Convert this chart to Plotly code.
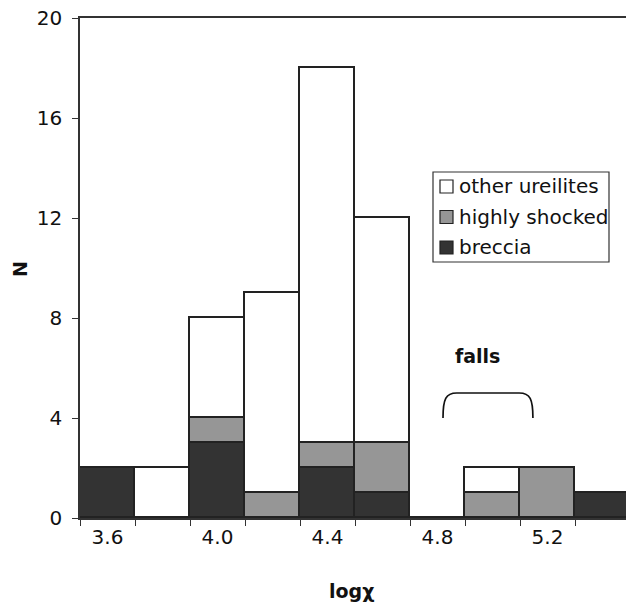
import plotly.graph_objects as go

# Bin centres of log(chi) and counts per class
bin_centres = [3.6, 3.8, 4.0, 4.2, 4.4, 4.6, 4.8, 5.0, 5.2, 5.4]
breccia = [2, 0, 3, 0, 2, 1, 0, 0, 0, 1]
highly_shocked = [0, 0, 1, 1, 1, 2, 0, 1, 2, 0]
other_ureilites = [0, 2, 4, 8, 15, 9, 0, 1, 0, 0]

bin_width = 0.2
bin_edges = [round(c - bin_width / 2, 2) for c in bin_centres] + [round(bin_centres[-1] + bin_width / 2, 2)]
label_ticks = [3.6, 4.0, 4.4, 4.8, 5.2]
label_text = ["3.6", "4.0", "4.4", "4.8", "5.2"]
y_ticks = [0, 4, 8, 12, 16, 20]

FONT = "DejaVu Sans"
LINE = "#222222"
TXT = "#111111"

# Plot-area geometry in pixels
W, H = 626, 608
L, R, T, B = 80, 0, 18, 90
PW, PH = W - L - R, H - T - B


def px_x(p):
    return (p - L) / PW


def px_y(p):
    return (H - B - p) / PH


fig = go.Figure()
series = [
    ("breccia", breccia, "#333333"),
    ("highly shocked", highly_shocked, "#969696"),
    ("other ureilites", other_ureilites, "#ffffff"),
]
for name, vals, col in series:
    fig.add_trace(go.Bar(
        x=bin_centres, y=vals, width=bin_width, name=name,
        marker=dict(color=col, line=dict(color=LINE, width=1.7)),
        xaxis="x", yaxis="y", showlegend=False,
    ))

x_range = [3.5, 3.5 + PW / 275]

# Tick labels sit at bin centres on an overlaid axis
fig.add_trace(go.Scatter(x=[3.6], y=[None], xaxis="x2", yaxis="y", showlegend=False, hoverinfo="skip"))

# Bracket marking the falls
fig.add_shape(
    type="path",
    path="M 4.82,4.0 C 4.82,4.75 4.83,5.0 4.87,5.0 L 5.097,5.0 C 5.137,5.0 5.147,4.75 5.147,4.0",
    line=dict(color=TXT, width=1.7), xref="x", yref="y",
)
fig.add_annotation(x=4.947, y=6.5, xref="x", yref="y", text="<b>falls</b>", showarrow=False,
                   font=dict(family=FONT, size=19, color=TXT))

# Axis titles
fig.add_annotation(x=px_x(351), y=px_y(591), xref="paper", yref="paper", text="<b>logχ</b>",
                   xanchor="center", yanchor="middle",
                   showarrow=False, font=dict(family=FONT, size=19, color=TXT))
fig.add_annotation(x=px_x(20), y=px_y(269), xref="paper", yref="paper", text="<b>N</b>",
                   xanchor="center", yanchor="middle",
                   textangle=-90, showarrow=False, font=dict(family=FONT, size=19, color=TXT))

# Legend box with swatches
fig.add_shape(type="rect", xref="paper", yref="paper",
              x0=px_x(433), x1=px_x(609), y0=px_y(262), y1=px_y(172),
              line=dict(color="#333333", width=1.2), fillcolor="white", layer="above")
for (name, _, col), cy in zip(series[::-1], [186.5, 217, 247.5]):
    fig.add_shape(type="rect", xref="paper", yref="paper",
                  x0=px_x(440), x1=px_x(453), y0=px_y(cy + 6.5), y1=px_y(cy - 6.5),
                  line=dict(color="#222222", width=1.2), fillcolor=col, layer="above")
    fig.add_annotation(x=px_x(457), y=px_y(cy), xref="paper", yref="paper", text=name,
                       xanchor="left", yanchor="middle", showarrow=False,
                       font=dict(family=FONT, size=20, color=TXT))

fig.update_layout(
    width=W, height=H,
    margin=dict(l=L, r=R, t=T, b=B),
    plot_bgcolor="white", paper_bgcolor="white",
    barmode="stack", bargap=0, showlegend=False,
    font=dict(family=FONT, size=20, color=TXT),
    xaxis=dict(
        range=x_range, tickvals=bin_edges, showticklabels=False,
        ticks="outside", ticklen=6, tickcolor="#333333", tickwidth=1.3,
        showline=True, linecolor="#333333", linewidth=1.7, mirror=True,
        showgrid=False, zeroline=False,
    ),
    xaxis2=dict(
        range=x_range, overlaying="x", side="bottom", anchor="y",
        tickvals=label_ticks, ticktext=label_text, ticks="",
        ticklabelstandoff=5,
        showline=False, showgrid=False, zeroline=False,
        tickfont=dict(family=FONT, size=20, color=TXT),
    ),
    yaxis=dict(
        range=[0, 20], tickvals=y_ticks, ticks="outside", ticklen=6,
        tickcolor="#333333", tickwidth=1.3, ticklabelstandoff=6,
        showline=True, linecolor="#333333", linewidth=1.7,
        showgrid=False, zeroline=False,
        tickfont=dict(family=FONT, size=20, color=TXT),
    ),
)

fig.write_html("out.html")
